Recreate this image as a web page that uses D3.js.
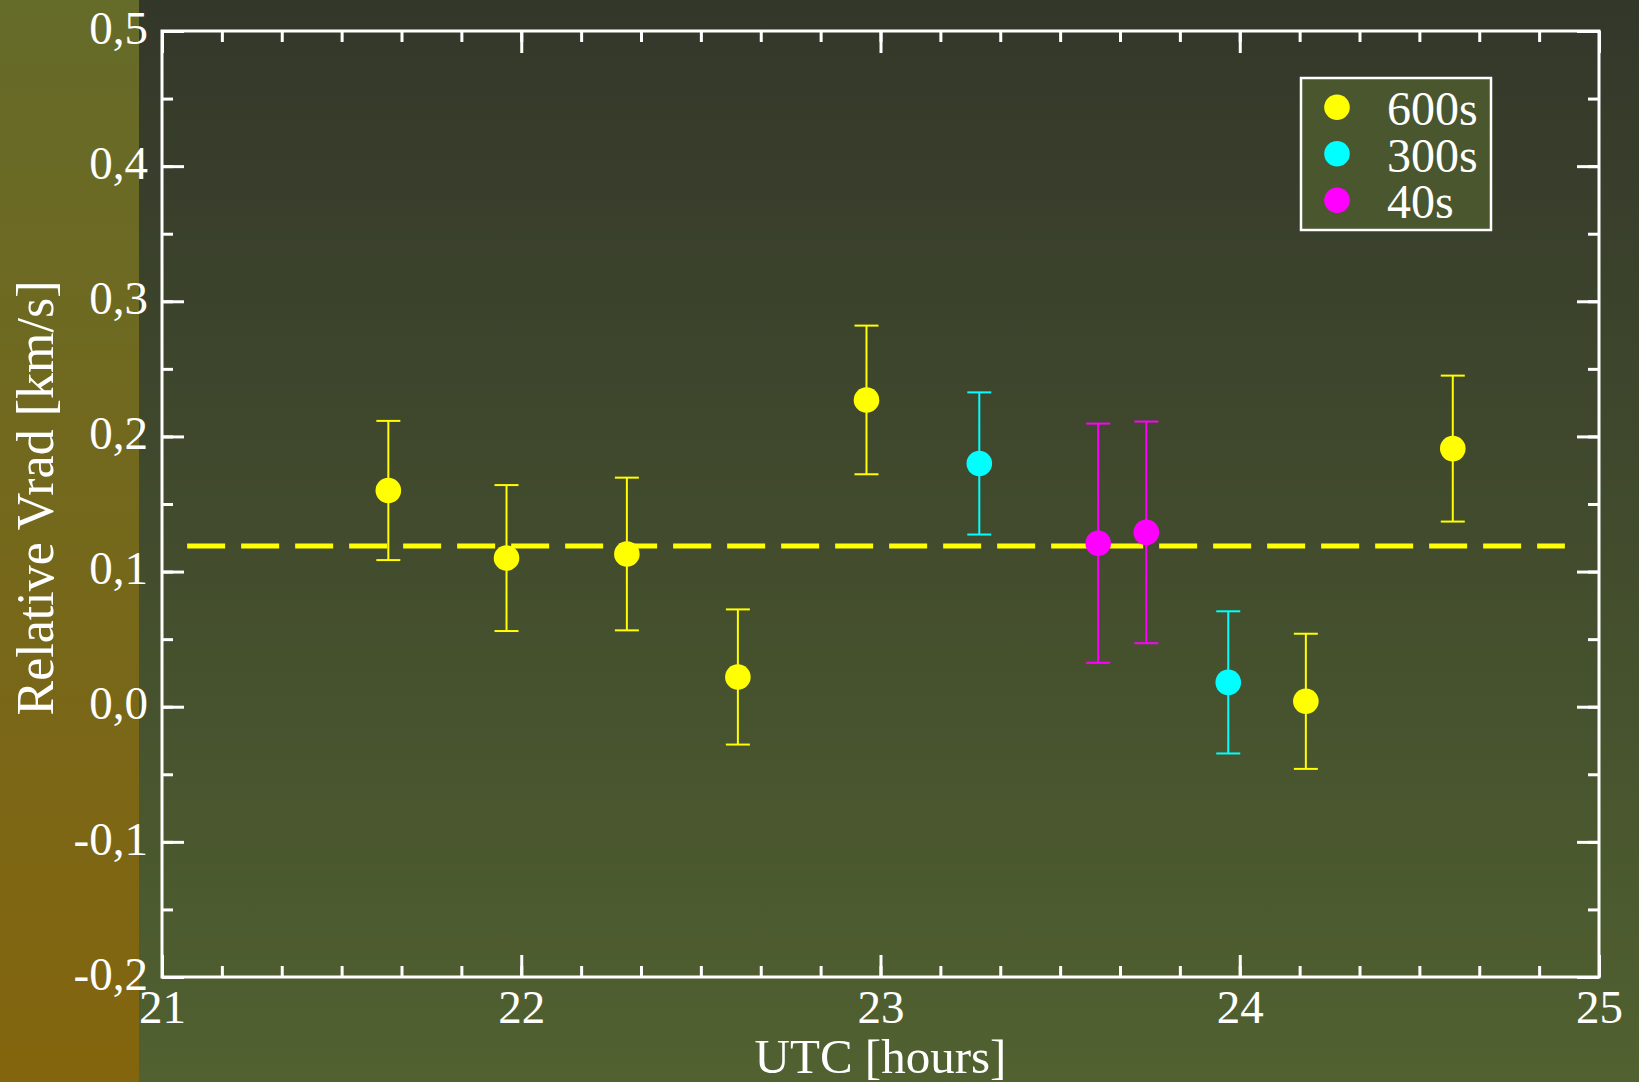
<!DOCTYPE html>
<html>
<head>
<meta charset="utf-8">
<script src="https://cdn.jsdelivr.net/npm/d3@7"></script>
<style>
  html, body { margin: 0; padding: 0; background: #3f4730; }
  svg { display: block; }
  text { font-family: "Liberation Serif", "Times New Roman", serif; fill: #ffffff; }
</style>
</head>
<body>
<svg id="chart" width="1639" height="1082"></svg>
<script>
// ---- data ----
const series = ["600s", "300s", "40s"];
const seriesColors = ["#ffff00", "#00ffff", "#ff00ff"];

const utc600 = [21.630, 21.959, 22.294, 22.603, 22.961, 24.184, 24.593];
const vrad600 = [0.160, 0.110, 0.113, 0.022, 0.227, 0.004, 0.191];
const err600 = [0.0515, 0.054, 0.0565, 0.050, 0.055, 0.050, 0.054];

const utc300 = [23.275, 23.968];
const vrad300 = [0.180, 0.018];
const err300 = [0.0526, 0.0526];

const utc40 = [23.606, 23.740];
const vrad40 = [0.121, 0.129];
const err40 = [0.0885, 0.082];

const meanLevel = 0.119;
const meanRange = [21.07, 24.905];

const xTicks = [21, 22, 23, 24, 25];
const yTicks = [-0.2, -0.1, 0.0, 0.1, 0.2, 0.3, 0.4, 0.5];

// ---- layout ----
const W = 1639, H = 1082;
const L = 162, R = 1599, T = 31, B = 977;

const svg = d3.select("#chart");
const defs = svg.append("defs");

const g1 = defs.append("linearGradient").attr("id", "stripGrad")
  .attr("x1", 0).attr("y1", 0).attr("x2", 0).attr("y2", 1);
g1.append("stop").attr("offset", "0%").attr("stop-color", "rgb(101,107,41)");
g1.append("stop").attr("offset", "100%").attr("stop-color", "rgb(132,101,14)");

const g2 = defs.append("linearGradient").attr("id", "mainGrad")
  .attr("x1", 0).attr("y1", 0).attr("x2", 0).attr("y2", 1);
g2.append("stop").attr("offset", "0%").attr("stop-color", "rgb(51,55,42)");
g2.append("stop").attr("offset", "100%").attr("stop-color", "rgb(81,97,48)");

svg.append("rect").attr("x", 0).attr("y", 0).attr("width", 139).attr("height", H).attr("fill", "url(#stripGrad)");
svg.append("rect").attr("x", 139).attr("y", 0).attr("width", W - 139).attr("height", H).attr("fill", "url(#mainGrad)");

const x = d3.scaleLinear().domain([21, 25]).range([L, R]);
const y = d3.scaleLinear().domain([-0.2, 0.5]).range([B, T]);

const fmtY = v => {
  const r = Math.round(v * 10) / 10;
  return (r < 0 ? "-" : "") + Math.abs(r).toFixed(1).replace(".", ",");
};

const minorX = d3.range(21, 25.0001, 1 / 6);
const minorY = d3.range(-0.2, 0.5001, 0.05);

function styleAxis(sel) {
  sel.select(".domain").remove();
  sel.selectAll(".tick line").attr("stroke", "#ffffff").attr("stroke-width", 3);
  sel.selectAll(".tick text").attr("fill", "#ffffff")
    .style("font-family", '"Liberation Serif", serif').style("font-size", "47px");
}

// minor ticks
const axMinor = [
  [d3.axisBottom(x).tickValues(minorX).tickSize(-11).tickFormat(""), `translate(0,${B})`],
  [d3.axisTop(x).tickValues(minorX).tickSize(-11).tickFormat(""), `translate(0,${T})`],
  [d3.axisLeft(y).tickValues(minorY).tickSize(-11).tickFormat(""), `translate(${L},0)`],
  [d3.axisRight(y).tickValues(minorY).tickSize(-11).tickFormat(""), `translate(${R},0)`]
];
axMinor.forEach(([ax, tr]) => svg.append("g").attr("transform", tr).call(ax).call(styleAxis));

// major ticks
svg.append("g").attr("transform", `translate(0,${B})`)
  .call(d3.axisBottom(x).tickValues(xTicks).tickSize(-22).tickPadding(13).tickFormat(d3.format("d")))
  .call(styleAxis);
svg.append("g").attr("transform", `translate(0,${T})`)
  .call(d3.axisTop(x).tickValues(xTicks).tickSize(-22).tickFormat(""))
  .call(styleAxis);
const yAx = svg.append("g").attr("transform", `translate(${L},0)`)
  .call(d3.axisLeft(y).tickValues(yTicks).tickSize(-22).tickPadding(14).tickFormat(fmtY))
  .call(styleAxis);
yAx.selectAll(".tick text").attr("dy", "0.26em");
svg.append("g").attr("transform", `translate(${R},0)`)
  .call(d3.axisRight(y).tickValues(yTicks).tickSize(-22).tickFormat(""))
  .call(styleAxis);

// frame
svg.append("rect").attr("x", L).attr("y", T).attr("width", R - L).attr("height", B - T)
  .attr("fill", "none").attr("stroke", "#ffffff").attr("stroke-width", 3);

// mean dashed line
svg.append("line")
  .attr("x1", x(meanRange[0])).attr("x2", x(meanRange[1]))
  .attr("y1", y(meanLevel)).attr("y2", y(meanLevel))
  .attr("stroke", "#ffff00").attr("stroke-width", 5).attr("stroke-dasharray", "38,16");

// points with error bars
const groups = [
  { xs: utc600, ys: vrad600, es: err600, color: seriesColors[0] },
  { xs: utc300, ys: vrad300, es: err300, color: seriesColors[1] },
  { xs: utc40, ys: vrad40, es: err40, color: seriesColors[2] }
];
const capW = 12;
groups.forEach(gr => {
  const data = gr.xs.map((d, i) => ({ t: d, v: gr.ys[i], e: gr.es[i] }));
  const gg = svg.append("g");
  gg.selectAll("line.eb").data(data).join("line").attr("class", "eb")
    .attr("x1", d => x(d.t)).attr("x2", d => x(d.t))
    .attr("y1", d => y(d.v + d.e)).attr("y2", d => y(d.v - d.e))
    .attr("stroke", gr.color).attr("stroke-width", 2);
  gg.selectAll("line.capT").data(data).join("line").attr("class", "capT")
    .attr("x1", d => x(d.t) - capW).attr("x2", d => x(d.t) + capW)
    .attr("y1", d => y(d.v + d.e)).attr("y2", d => y(d.v + d.e))
    .attr("stroke", gr.color).attr("stroke-width", 2);
  gg.selectAll("line.capB").data(data).join("line").attr("class", "capB")
    .attr("x1", d => x(d.t) - capW).attr("x2", d => x(d.t) + capW)
    .attr("y1", d => y(d.v - d.e)).attr("y2", d => y(d.v - d.e))
    .attr("stroke", gr.color).attr("stroke-width", 2);
  gg.selectAll("circle").data(data).join("circle")
    .attr("cx", d => x(d.t)).attr("cy", d => y(d.v)).attr("r", 12.8)
    .attr("fill", gr.color);
});

// axis titles
svg.append("text").attr("x", (L + R) / 2).attr("y", 1073)
  .attr("text-anchor", "middle").style("font-size", "49px").text("UTC [hours]");
svg.append("text").attr("transform", `translate(53,498) rotate(-90)`)
  .attr("text-anchor", "middle").style("font-size", "52px").text("Relative Vrad [km/s]");

// legend
const lg = svg.append("g");
lg.append("rect").attr("x", 1301).attr("y", 78).attr("width", 190).attr("height", 152)
  .attr("fill", "rgb(74,86,46)").attr("stroke", "#ffffff").attr("stroke-width", 2.5);
series.forEach((s, i) => {
  const cy = 107.3 + i * 46.5;
  lg.append("circle").attr("cx", 1337).attr("cy", cy).attr("r", 12.8).attr("fill", seriesColors[i]);
  lg.append("text").attr("x", 1387).attr("y", cy + 17.7).style("font-size", "48px").text(s);
});
</script>
</body>
</html>
